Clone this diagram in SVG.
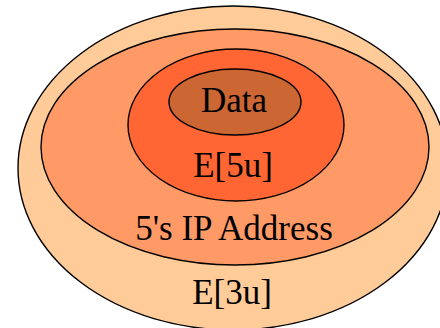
<svg xmlns="http://www.w3.org/2000/svg" width="440" height="328" viewBox="0 0 440 328">
<style>
.e{stroke:#000;stroke-width:1.4}
.t{font-family:"Liberation Serif","Times New Roman",serif;font-size:35px;fill:#000;text-anchor:middle}
</style>
<rect width="440" height="328" fill="#fff"/>
<g id="e3u">
<ellipse class="e" cx="233" cy="168" rx="215" ry="162" fill="#FFCC99"/>
<text class="t" x="232" y="304">E[3u]</text>
</g>
<g id="ip">
<ellipse class="e" cx="235" cy="147" rx="194" ry="118" fill="#FF9966"/>
<text class="t" x="234" y="240">5's IP Address</text>
</g>
<g id="e5u">
<ellipse class="e" cx="236" cy="125" rx="108" ry="76" fill="#FF6633"/>
<text class="t" x="233" y="177">E[5u]</text>
</g>
<g id="data">
<ellipse class="e" cx="235" cy="102" rx="66" ry="33" fill="#CC6633"/>
<text class="t" x="234" y="112">Data</text>
</g>
<g id="connectors"/>
</svg>
